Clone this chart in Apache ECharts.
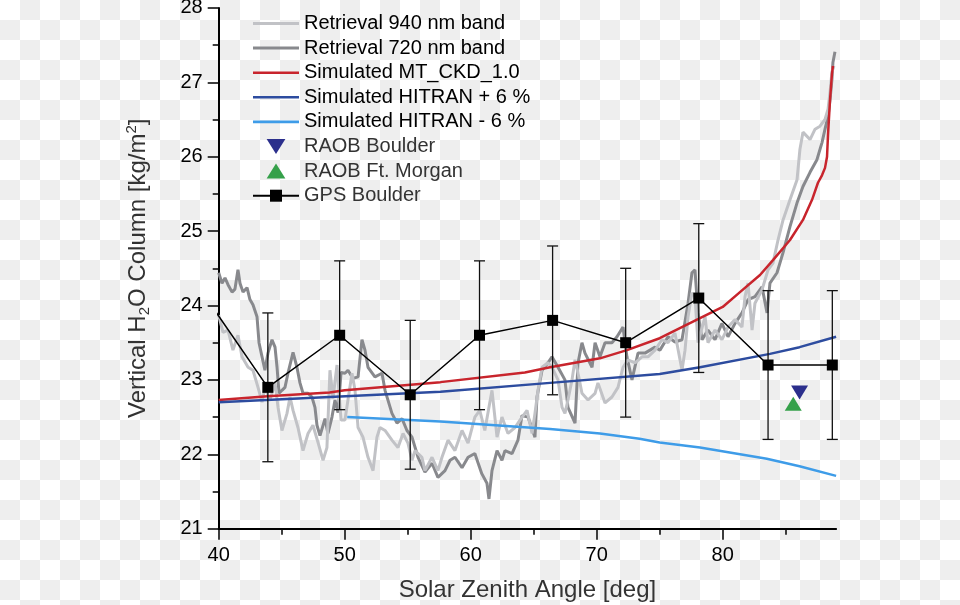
<!DOCTYPE html>
<html>
<head>
<meta charset="utf-8">
<script src="https://cdn.jsdelivr.net/npm/echarts@6/dist/echarts.min.js"></script>
<style>
html,body{margin:0;padding:0;}
body{width:960px;height:605px;background:repeating-conic-gradient(#eeeeee 0 25%, #ffffff 0 50%) 0 0/40px 40px;}
#chart{width:960px;height:605px;}
</style>
</head>
<body>
<div id="chart"></div>
<script>
// ---- data ----
const angle720 = [40.0,40.26,40.5,40.74,41.06,41.29,41.53,41.69,41.93,42.25,
  42.48,42.72,43.04,43.2,43.44,43.67,43.91,44.23,44.47,44.63,
  44.79,45.02,45.26,45.5,45.9,46.21,46.45,46.69,47.09,47.4,
  47.64,47.8,48.04,48.44,48.67,48.99,49.23,49.47,49.71,50.02,
  50.26,50.66,51.06,51.37,51.61,51.85,52.4,52.96,53.2,53.75,
  54.15,54.55,54.94,55.34,55.82,56.37,56.93,57.4,57.96,58.36,
  58.75,59.31,59.79,60.33,60.88,61.29,61.45,61.69,62.09,62.48,
  62.72,63.28,63.75,64.07,64.55,65.1,65.26,65.66,66.13,66.45,
  66.93,67.48,67.72,68.28,68.52,68.83,69.07,69.63,69.87,70.26,
  70.66,71.21,71.61,72.09,72.4,72.8,73.28,73.83,74.63,75.02,
  75.66,76.21,76.77,77.25,77.56,77.8,78.04,78.36,78.83,79.39,
  79.94,80.42,80.98,81.53,82.01,82.56,83.12,83.52,83.75,84.31,
  84.79,85.34,85.9,86.37,86.93,87.48,87.88,88.12,88.36,88.52,
  88.67,88.75,88.91];
const col720 = [24.44,24.30,24.37,24.28,24.18,24.22,24.48,24.30,24.18,24.24,
  24.08,24.01,23.85,23.50,23.31,23.13,23.36,23.54,23.44,23.17,
  22.82,22.86,22.90,23.09,23.37,23.17,22.96,22.82,22.82,22.77,
  22.63,22.39,22.25,22.48,22.28,22.50,22.73,22.56,23.10,23.09,
  23.13,23.02,23.04,23.54,23.40,23.17,23.04,23.09,22.86,22.55,
  22.42,22.48,22.32,22.23,21.96,21.76,21.88,21.69,21.78,21.92,
  21.96,21.82,21.96,22.01,21.74,21.61,21.40,21.78,22.05,21.92,
  22.05,22.01,22.19,22.52,22.50,22.23,22.77,23.13,23.23,23.31,
  23.17,23.00,22.63,22.42,23.23,23.50,23.36,23.17,23.50,23.31,
  23.50,23.50,23.58,23.71,23.31,23.00,23.36,23.36,23.44,23.40,
  23.58,23.51,23.54,24.03,24.44,24.48,23.90,23.54,23.67,23.54,
  23.76,23.58,23.76,23.90,24.08,24.12,24.25,23.90,24.30,24.44,
  24.71,25.06,25.38,25.60,25.79,25.96,26.19,26.37,26.54,26.77,
  27.04,27.27,27.41];

const angle940 = [40.0,40.34,40.74,41.13,41.53,41.85,42.33,42.72,43.12,43.44,
  43.67,44.07,44.47,44.71,45.02,45.42,45.66,45.9,46.29,46.69,
  47.09,47.48,47.88,48.28,48.59,48.83,49.07,49.39,49.71,50.02,
  50.58,50.82,51.06,51.45,51.85,52.25,52.56,52.8,53.2,53.75,
  54.23,54.63,55.02,55.34,55.58,56.13,56.37,56.93,57.4,57.72,
  58.2,58.75,59.31,59.79,60.33,60.72,61.12,61.69,62.09,62.48,
  62.96,63.52,63.91,64.47,64.87,65.1,65.34,65.66,66.13,66.45,
  66.93,67.25,67.48,67.72,68.04,68.28,68.52,68.83,69.31,69.87,
  70.1,70.66,71.21,71.69,72.09,72.48,73.04,73.6,74.07,74.63,
  75.18,75.66,76.21,76.77,77.01,77.25,77.56,77.8,78.04,78.6,
  78.83,79.39,79.94,80.42,80.98,81.53,81.77,82.01,82.33,82.56,
  83.12,83.6,83.99,84.39,84.79,85.34,85.9,86.13,86.37,86.93,
  87.33,87.72,88.12,88.36,88.52,88.67,88.83];
const col940 = [23.87,23.64,23.67,23.40,23.60,23.31,23.17,23.13,22.90,22.70,
  22.90,22.73,22.96,22.63,22.32,22.55,22.77,22.59,22.36,22.05,
  22.28,22.39,22.16,21.92,22.09,23.13,22.75,23.20,22.46,22.46,
  23.09,22.86,22.36,22.23,21.96,21.78,22.23,22.36,22.32,22.19,
  22.09,22.28,22.15,21.92,22.05,21.96,21.78,21.96,21.78,21.96,
  22.19,22.05,22.32,22.15,22.50,22.59,22.32,22.86,22.23,22.50,
  22.28,22.36,22.46,22.59,22.28,22.55,22.86,23.17,23.23,23.17,
  23.00,22.63,22.55,22.73,23.00,23.27,23.09,22.82,22.73,22.82,
  22.96,22.69,22.77,22.90,23.17,23.27,23.23,23.31,23.31,23.40,
  23.54,23.50,23.63,23.13,23.40,23.85,24.17,24.12,23.50,23.85,
  23.50,23.67,23.54,23.71,23.81,23.71,24.12,24.30,23.67,24.03,
  24.21,24.48,24.57,24.88,25.15,25.42,25.69,26.10,26.33,26.23,
  26.37,26.41,26.50,26.64,26.87,27.14,27.22];

const angleCkd = [40.0,43.9,48.8,50.0,57.6,64.3,66.3,70.26,72.4,75.0,78.2,80.0,81.37,82.96,83.99,85.34,86.37,87.09,87.56,87.88,88.12,88.28,88.36,88.52,88.67,88.75];
const colCkd   = [22.73,22.78,22.83,22.86,22.97,23.10,23.17,23.29,23.40,23.56,23.83,23.98,24.18,24.41,24.61,24.88,25.15,25.42,25.65,25.75,25.85,26.00,26.30,26.77,27.11,27.22];

const angleHplus = [40.0,48.8,57.6,66.3,75.0,78.2,83.75,86.1,89.0];
const colHplus   = [22.70,22.77,22.84,22.96,23.08,23.17,23.35,23.44,23.58];

const angleHminus = [50.2,57.6,66.3,70.26,73.4,75.0,78.2,83.5,86.1,89.0];
const colHminus   = [22.50,22.44,22.34,22.28,22.21,22.16,22.09,21.94,21.84,21.71];

const angleGps = [38.2,43.9,49.6,55.2,60.7,66.5,72.3,78.1,83.6,88.7];
const colGps   = [24.3,22.9,23.6,22.8,23.6,23.8,23.5,24.1,23.2,23.2];
const errGps   = [1.0,1.0,1.0,1.0,1.0,1.0,1.0,1.0,1.0,1.0];

const raobBoulder = [[86.1, 22.83]];
const raobMorgan  = [[85.6, 22.68]];

const xMajorTicks = [40,50,60,70,80];
const xMinorTicks = [45,55,65,75,85];

// ---- build chart ----
const zip = (a, b) => a.map((v, i) => [v, b[i]]);
const FONT = 'Liberation Sans, Arial, Helvetica, sans-serif';
const TRI_DOWN = 'path://M0,0 L20,0 L10,16 Z';
const TRI_UP = 'path://M10,0 L20,16 L0,16 Z';
const lineIcon = (h) => 'path://M0,0 L46,0 L46,' + h + ' L0,' + h + ' Z';

const chart = echarts.init(document.getElementById('chart'), null, {renderer: 'canvas'});

const lineSeries = (name, xs, ys, color, width) => ({
  name, type: 'line', data: zip(xs, ys), symbol: 'none', smooth: false,
  lineStyle: {color, width}, itemStyle: {color}, clip: true, z: 2
});

const errData = angleGps.map((x, i) => [x, colGps[i], errGps[i]]).filter(d => d[0] >= 40);

const option = {
  backgroundColor: 'transparent',
  animation: false,
  textStyle: {fontFamily: FONT},
  grid: {left: 218.7, top: 7.9, width: 617.4, height: 520.8, containLabel: false, outerBoundsMode: 'none'},
  legend: {
    orient: 'vertical', left: 247, top: 8.5, padding: 5,
    itemWidth: 46, itemHeight: 15, itemGap: 4.6,
    textStyle: {fontSize: 20, color: '#000', fontFamily: FONT, lineHeight: 20},
    data: [
      {name: 'Retrieval 940 nm band', icon: lineIcon(3)},
      {name: 'Retrieval 720 nm band', icon: lineIcon(3)},
      {name: 'Simulated MT_CKD_1.0', icon: lineIcon(2.6)},
      {name: 'Simulated HITRAN + 6 %', icon: lineIcon(2.6)},
      {name: 'Simulated HITRAN - 6 %', icon: lineIcon(2.6)},
      {name: 'RAOB Boulder', textStyle: {color: '#333'}},
      {name: 'RAOB Ft. Morgan', textStyle: {color: '#333'}},
      {name: 'GPS Boulder', textStyle: {color: '#333'}}
    ]
  },
  xAxis: [{
    type: 'value', min: 40, max: 89, position: 'bottom',
    name: 'Solar Zenith Angle [deg]', nameLocation: 'middle', nameGap: 50,
    nameTextStyle: {fontSize: 24, color: '#333', fontFamily: FONT},
    axisLine: {show: true, onZero: false, lineStyle: {color: '#000', width: 2}},
    axisTick: {show: true, length: 11, customValues: xMajorTicks, lineStyle: {color: '#000', width: 1.5}},
    axisLabel: {show: true, customValues: xMajorTicks, fontSize: 20, color: '#000', margin: 17, fontFamily: FONT},
    splitLine: {show: false}
  }, {
    type: 'value', min: 40, max: 89, position: 'bottom', gridIndex: 0,
    axisLine: {show: false, onZero: false},
    axisTick: {show: true, length: 6, customValues: xMinorTicks, lineStyle: {color: '#000', width: 1.5}},
    axisLabel: {show: false},
    splitLine: {show: false}
  }],
  yAxis: {
    type: 'value', min: 21, max: 28, interval: 1,
    name: '{a|Vertical H}{b|2}{a|O Column [kg/m}{c|2}{a|]}',
    nameLocation: 'middle', nameGap: 66, nameRotate: 90,
    nameTextStyle: {
      fontFamily: FONT, color: '#333',
      rich: {
        a: {fontSize: 24, color: '#333', fontFamily: FONT, lineHeight: 28},
        b: {fontSize: 15, color: '#333', fontFamily: FONT, verticalAlign: 'bottom', lineHeight: 16},
        c: {fontSize: 15, color: '#333', fontFamily: FONT, verticalAlign: 'top', lineHeight: 16}
      }
    },
    axisLine: {show: true, onZero: false, lineStyle: {color: '#000', width: 2}},
    axisTick: {show: true, length: 11, lineStyle: {color: '#000', width: 1.5}},
    minorTick: {show: true, splitNumber: 2, length: 6, lineStyle: {color: '#000', width: 1.5}},
    axisLabel: {fontSize: 20, color: '#000', margin: 16, fontFamily: FONT},
    splitLine: {show: false}
  },
  series: [
    lineSeries('Retrieval 720 nm band', angle720, col720, '#88898d', 3),
    lineSeries('Retrieval 940 nm band', angle940, col940, '#c1c2c6', 3),
    lineSeries('Simulated MT_CKD_1.0', angleCkd, colCkd, '#c8242c', 2.5),
    lineSeries('Simulated HITRAN + 6 %', angleHplus, colHplus, '#2d4c9f', 2.5),
    lineSeries('Simulated HITRAN - 6 %', angleHminus, colHminus, '#3e9ce8', 2.5),
    {
      name: 'RAOB Boulder', type: 'scatter', data: raobBoulder,
      symbol: TRI_DOWN, symbolSize: [17, 14],
      itemStyle: {color: '#2b2f8c', opacity: 1}, z: 4
    },
    {
      name: 'RAOB Ft. Morgan', type: 'scatter', data: raobMorgan,
      symbol: TRI_UP, symbolSize: [17, 14],
      itemStyle: {color: '#35a04a', opacity: 1}, z: 4
    },
    {
      name: 'GPS Boulder-err', type: 'custom', data: errData, z: 5,
      encode: {x: 0, y: 1},
      renderItem: (params, api) => {
        const x = api.value(0), y = api.value(1), e = api.value(2);
        const t = api.coord([x, y + e]);
        const b = api.coord([x, y - e]);
        const w = 5.5;
        const st = {stroke: '#111', lineWidth: 1.3};
        return {type: 'group', children: [
          {type: 'line', shape: {x1: t[0], y1: t[1], x2: b[0], y2: b[1]}, style: st},
          {type: 'line', shape: {x1: t[0] - w, y1: t[1], x2: t[0] + w, y2: t[1]}, style: st},
          {type: 'line', shape: {x1: b[0] - w, y1: b[1], x2: b[0] + w, y2: b[1]}, style: st}
        ]};
      }
    },
    {
      name: 'GPS Boulder', type: 'line', data: zip(angleGps, colGps),
      symbol: 'rect', symbolSize: 11, showSymbol: true, clip: true,
      lineStyle: {color: '#000', width: 1.5}, itemStyle: {color: '#000'}, z: 6
    }
  ]
};
chart.setOption(option);
</script>
</body>
</html>
